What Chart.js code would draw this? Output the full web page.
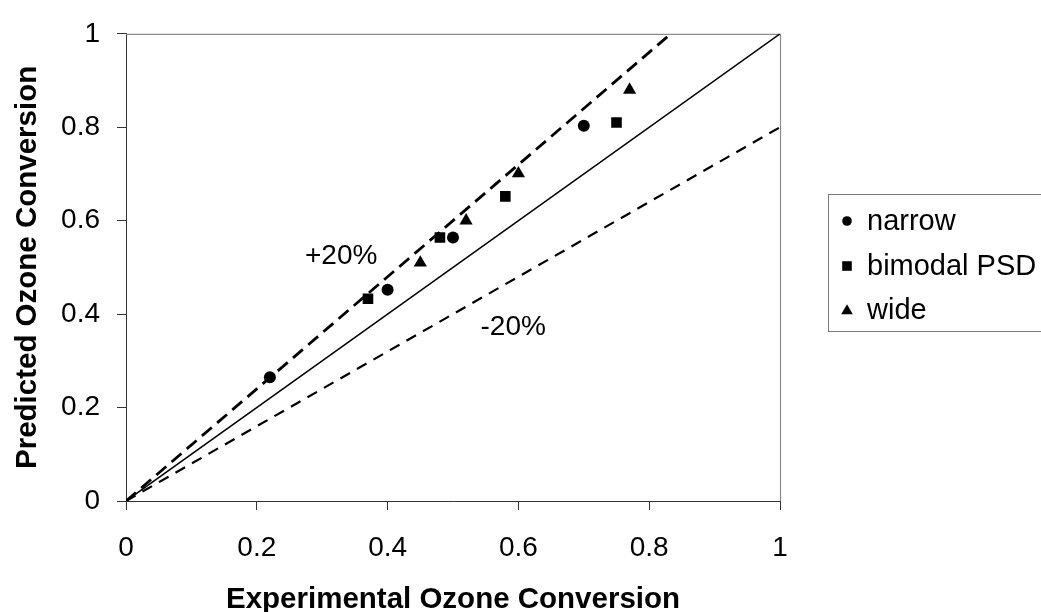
<!DOCTYPE html>
<html>
<head>
<meta charset="utf-8">
<title>Predicted vs Experimental Ozone Conversion</title>
<script src="https://cdn.jsdelivr.net/npm/chart.js@4.4.1/dist/chart.umd.min.js"></script>
<style>
  html, body { margin: 0; padding: 0; background: #fff; }
  #wrap { width: 1041px; height: 612px; }
</style>
</head>
<body>
<div id="wrap"><canvas id="ozoneChart" width="1041" height="612"></canvas></div>
<script>
// Experimental (x) vs predicted (y) ozone conversion for three particle size distributions
const narrowX = [0.22, 0.40, 0.50, 0.70];
const narrowY = [0.265, 0.452, 0.564, 0.803];
const bimodalX = [0.37, 0.48, 0.58, 0.75];
const bimodalY = [0.433, 0.564, 0.652, 0.810];
const wideX = [0.45, 0.52, 0.60, 0.77];
const wideY = [0.510, 0.600, 0.701, 0.880];

// parity line and the +/-20% band lines
const parityX = [0, 1];
const parityY = [0, 1];
const plus20X = [0, 0.2, 0.4, 0.6, 0.833];
const plus20Y = [0, 0.24, 0.48, 0.72, 1.0];
const minus20X = [0, 0.2, 0.4, 0.6, 0.8, 1];
const minus20Y = [0, 0.16, 0.32, 0.48, 0.64, 0.8];

const axisTicks = [0, 0.2, 0.4, 0.6, 0.8, 1];
const seriesNames = ['narrow', 'bimodal PSD', 'wide'];
const bandLabels = ['+20%', '-20%'];
const bandLabelX = [0.329, 0.592];
const bandLabelY = [0.523, 0.371];

const FONT = '"Liberation Sans", Arial, Helvetica, sans-serif';

function toPoints(xs, ys) {
    return xs.map((x, i) => ({ x: x, y: ys[i] }));
}

function lineSet(label, xs, ys, width, dash) {
    return {
        type: 'line',
        label: label,
        data: toPoints(xs, ys),
        borderColor: '#000',
        borderWidth: width,
        borderDash: dash,
        pointRadius: 0,
        fill: false,
        tension: 0,
        order: 2
    };
}

function markerSet(label, xs, ys, style, radius) {
    return {
        type: 'scatter',
        label: label,
        data: toPoints(xs, ys),
        pointStyle: style,
        pointRadius: radius,
        backgroundColor: '#000',
        borderColor: '#000',
        borderWidth: 0,
        order: 1
    };
}

// band labels (+20% / -20%) placed through the scales
const bandText = {
    id: 'bandText',
    afterDatasetsDraw(chart) {
        const { ctx, scales: { x, y } } = chart;
        ctx.save();
        ctx.fillStyle = '#000';
        ctx.font = '28px ' + FONT;
        ctx.textAlign = 'center';
        ctx.textBaseline = 'middle';
        bandLabels.forEach((t, i) => {
            ctx.fillText(t, x.getPixelForValue(bandLabelX[i]), y.getPixelForValue(bandLabelY[i]));
        });
        ctx.restore();
    }
};

// grey top/right frame of the plot area
const plotFrame = {
    id: 'plotFrame',
    beforeDatasetsDraw(chart) {
        const { ctx, chartArea: { left, top, right, bottom } } = chart;
        ctx.save();
        ctx.strokeStyle = '#8c8c8c';
        ctx.lineWidth = 1.2;
        ctx.beginPath();
        ctx.moveTo(left, top + 0.5);
        ctx.lineTo(right + 0.5, top + 0.5);
        ctx.lineTo(right + 0.5, bottom);
        ctx.stroke();
        ctx.restore();
    }
};

// boxed legend on the right, like the original spreadsheet chart
const boxLegend = {
    id: 'boxLegend',
    afterDraw(chart) {
        const ctx = chart.ctx;
        const boxLeft = 828, boxTop = 194, boxBottom = 331;
        ctx.save();
        ctx.strokeStyle = '#7a7a7a';
        ctx.lineWidth = 1;
        ctx.strokeRect(boxLeft + 0.5, boxTop + 0.5, 300, boxBottom - boxTop);

        const rowY = [221, 266, 310];
        ctx.fillStyle = '#000';
        ctx.font = '29px ' + FONT;
        ctx.textAlign = 'left';
        ctx.textBaseline = 'middle';
        chart.data.datasets.filter(d => d.type === 'scatter').forEach((d, i) => {
            const cx = 847, cy = rowY[i];
            ctx.beginPath();
            if (d.pointStyle === 'circle') {
                ctx.arc(cx, cy, 4.8, 0, Math.PI * 2);
            } else if (d.pointStyle === 'rect') {
                ctx.rect(cx - 4.8, cy - 4.8, 9.6, 9.6);
            } else {
                ctx.moveTo(cx, cy - 5.8);
                ctx.lineTo(cx + 5.8, cy + 4.2);
                ctx.lineTo(cx - 5.8, cy + 4.2);
                ctx.closePath();
            }
            ctx.fill();
            ctx.fillText(d.label, 867, cy + 1);
        });
        ctx.restore();
    }
};

const axisCommon = {
    type: 'linear',
    min: 0,
    max: 1,
    afterBuildTicks: s => { s.ticks = axisTicks.map(v => ({ value: v })); },
    grid: {
        drawOnChartArea: false,
        drawTicks: true,
        tickLength: 9,
        color: '#333',
        tickColor: '#333',
        lineWidth: 1
    },
    border: { display: true, color: '#333', width: 1 }
};

new Chart(document.getElementById('ozoneChart'), {
    data: {
        datasets: [
            lineSet('parity', parityX, parityY, 1.5, []),
            lineSet('+20%', plus20X, plus20Y, 2.8, [13, 7]),
            lineSet('-20%', minus20X, minus20Y, 2.2, [11, 8]),
            markerSet(seriesNames[0], narrowX, narrowY, 'circle', 6),
            markerSet(seriesNames[1], bimodalX, bimodalY, 'rect', 7.5),
            markerSet(seriesNames[2], wideX, wideY, 'triangle', 7.6)
        ]
    },
    options: {
        responsive: false,
        animation: false,
        layout: { padding: { left: 0, top: 26, right: 261, bottom: 0 } },
        plugins: {
            legend: { display: false },
            tooltip: { enabled: false }
        },
        scales: {
            x: Object.assign({}, axisCommon, {
                position: 'bottom',
                afterFit: s => { s.height = 111; },
                ticks: {
                    color: '#000',
                    font: { family: FONT, size: 28 },
                    padding: 21,
                    maxRotation: 0,
                    callback: v => String(v)
                },
                title: {
                    display: true,
                    text: 'Experimental Ozone Conversion',
                    color: '#000',
                    font: { family: FONT, size: 29.5, weight: 'bold', lineHeight: 1 },
                    padding: { top: 0, bottom: -3 }
                }
            }),
            y: Object.assign({}, axisCommon, {
                position: 'left',
                afterFit: s => { s.width = 126; },
                ticks: {
                    color: '#000',
                    font: { family: FONT, size: 28 },
                    padding: 17,
                    callback: v => String(v)
                },
                title: {
                    display: true,
                    text: 'Predicted Ozone Conversion',
                    color: '#000',
                    font: { family: FONT, size: 29.5, weight: 'bold', lineHeight: 1 },
                    padding: { top: 13, bottom: 0 }
                }
            })
        }
    },
    plugins: [plotFrame, bandText, boxLegend]
});
</script>
</body>
</html>
